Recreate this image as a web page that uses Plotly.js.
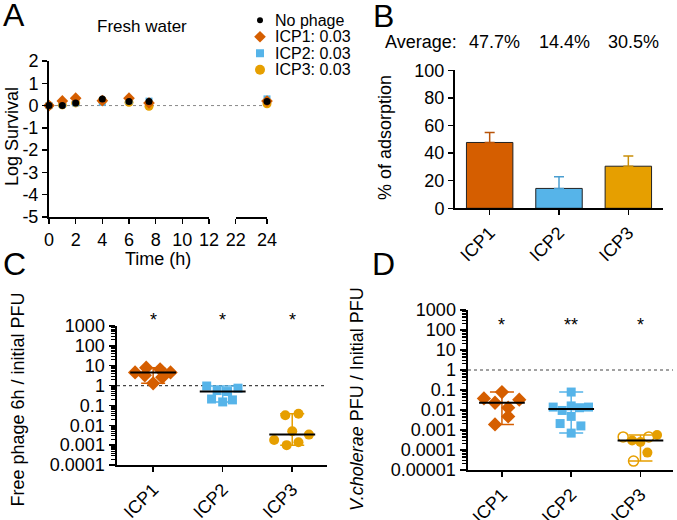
<!DOCTYPE html>
<html><head><meta charset="utf-8">
<script src="https://cdn.plot.ly/plotly-3.0.1.min.js"></script>
<style>html,body{margin:0;padding:0;background:#fff}#chart{width:677px;height:520px}</style>
</head><body><div id="chart"></div>
<script>
// ---------- Panel A: fresh water survival ----------
const timesA = [0, 1, 2, 4, 6, 7.5, 24];
const survNoPhage = [0, 0, 0.12, 0.3, 0.18, 0.18, 0.18];
const survICP1 = [0, 0.21, 0.33, 0.22, 0.33, 0.12, 0.2];
const survICP2 = [0, 0.05, 0.12, 0.15, 0.22, 0.2, 0.3];
const survICP3 = [0, 0.03, 0.12, 0.22, 0.15, -0.03, 0.08];
const legendLabelsA = ['No phage', 'ICP1: 0.03', 'ICP2: 0.03', 'ICP3: 0.03'];
const xTicksA1 = [0, 2, 4, 6, 8, 10, 12];
const xTicksA2 = [22, 24];
const yTicksA = [-5, -4, -3, -2, -1, 0, 1, 2];

// ---------- Panel B: adsorption ----------
const phages = ['ICP1', 'ICP2', 'ICP3'];
const adsorption = [47.7, 14.4, 30.5];
const adsorptionErr = [7.3, 8.5, 7.4];
const yTicksB = [0, 20, 40, 60, 80, 100];

// ---------- Panel C: free phage 6h / initial PFU ----------
const freeICP1 = [4.6, 7.9, 3.3, 1.3, 6.6, 2.6, 4.6];
const freeICP1Jit = [-0.26, -0.1, -0.12, 0, 0.1, 0.13, 0.25];
const freeICP2 = [0.95, 0.56, 0.5, 0.74, 0.21, 0.15, 0.19];
const freeICP2Jit = [-0.23, -0.08, 0.07, 0.22, -0.16, 0, 0.14];
const freeICP3 = [0.032, 0.038, 0.005, 0.0034, 0.0018, 0.001, 0.0014];
const freeICP3Jit = [-0.1, 0.09, 0, 0.24, -0.26, -0.08, 0.09];
const starsC = ['*', '*', '*'];
const yTickValsC = [1000, 100, 10, 1, 0.1, 0.01, 0.001, 0.0001];
const yTickTextC = ['1000', '100', '10', '1', '0.1', '0.01', '0.001', '0.0001'];

// ---------- Panel D: V.cholerae PFU / initial PFU ----------
const vcICP1 = [0.038, 0.023, 0.079, 0.013, 0.0048, 0.033, 0.0019];
const vcICP1Jit = [-0.26, -0.1, 0, 0.09, 0.09, 0.25, -0.1];
const vcICP2 = [0.079, 0.014, 0.0095, 0.016, 0.013, 0.014, 0.0048, 0.0021, 0.0016, 0.0007];
const vcICP2Jit = [0, -0.26, -0.13, 0, 0.12, 0.25, 0, -0.16, 0.14, 0];
const vcICP3 = [0.0003, 0.00025, 0.00056, 0.000074];
const vcICP3Jit = [-0.12, 0, 0.24, 0.1];
const vcICP3Open = [0.00045, 0.00045, 0.000028];
const vcICP3OpenJit = [-0.25, 0.12, -0.1];
const starsD = ['*', '**', '*'];
const yTickValsD = [1000, 100, 10, 1, 0.1, 0.01, 0.001, 0.0001, 0.00001];
const yTickTextD = ['1000', '100', '10', '1', '0.1', '0.01', '0.001', '0.0001', '0.00001'];

// ---------- styling ----------
const FONT = 'Liberation Sans, Arial, Helvetica, sans-serif';
const ORANGE = '#D55E00', BLUE = '#56B4E9', YELLOW = '#E69F00', BLACK = '#000000';
const W = 677, H = 520;
const px = v => v / W;
const py = v => 1 - v / H;

const traces = [];

// Panel A traces
const seriesA = [
  {vals: survICP3, color: YELLOW, symbol: 'circle', size: 9},
  {vals: survICP2, color: BLUE, symbol: 'square', size: 7},
  {vals: survICP1, color: ORANGE, symbol: 'diamond', size: 9},
  {vals: survNoPhage, color: BLACK, symbol: 'circle', size: 7}
];
seriesA.forEach(s => {
  const early = {x: [], y: []}, late = {x: [], y: []};
  timesA.forEach((t, i) => { const g = t <= 12 ? early : late; g.x.push(t); g.y.push(s.vals[i]); });
  [[early, 'x', 'y'], [late, 'x2', 'y']].forEach(([g, xa, ya]) => {
    traces.push({type: 'scatter', mode: 'markers', x: g.x, y: g.y, xaxis: xa, yaxis: ya,
      cliponaxis: false, hoverinfo: 'skip',
      marker: {color: s.color, symbol: s.symbol, size: s.size, line: {width: 0}}});
  });
});
// manual legend markers for panel A
const legendMarkers = [
  {color: BLACK, symbol: 'circle', size: 6},
  {color: ORANGE, symbol: 'diamond', size: 9},
  {color: BLUE, symbol: 'square', size: 8},
  {color: YELLOW, symbol: 'circle', size: 10}
];
legendMarkers.forEach((m, i) => {
  traces.push({type: 'scatter', mode: 'markers', x: [0.5], y: [i], xaxis: 'x6', yaxis: 'y6',
    cliponaxis: false, hoverinfo: 'skip', marker: {color: m.color, symbol: m.symbol, size: m.size}});
});

// Panel B bars
const barColors = [ORANGE, BLUE, YELLOW];
const errColors = ['#B8540A', '#4A9ED0', '#C98E08'];
phages.forEach((p, i) => {
  traces.push({type: 'bar', x: [i], y: [adsorption[i]], xaxis: 'x3', yaxis: 'y3', width: 0.67,
    hoverinfo: 'skip',
    marker: {color: barColors[i], line: {color: '#222', width: 1}},
    error_y: {type: 'data', symmetric: false, array: [adsorptionErr[i]], arrayminus: [0],
      color: errColors[i], thickness: 1.5, width: 5}});
});

// Dot plot helper for C / D
function median(arr) {
  const s = arr.slice().sort((a, b) => a - b), n = s.length;
  return n % 2 ? s[(n - 1) / 2] : (s[n / 2 - 1] + s[n / 2]) / 2;
}
function dotPanel(xa, ya, groups, xr) {
  traces.push({type: 'scatter', mode: 'lines', x: xr, y: [1, 1], xaxis: xa, yaxis: ya,
    hoverinfo: 'skip', cliponaxis: false, line: {color: '#444', width: 1.2, dash: 'dot'}});
  groups.forEach((g, i) => {
    const all = g.vals.concat(g.openVals || []);
    const med = median(all), mn = Math.min(...all), mx = Math.max(...all);
    traces.push({type: 'scatter', mode: 'markers', x: [i], y: [med], xaxis: xa, yaxis: ya,
      hoverinfo: 'skip', cliponaxis: false, marker: {size: 1, opacity: 0},
      error_y: {type: 'data', symmetric: false, array: [mx - med], arrayminus: [med - mn],
        color: g.color, thickness: 1.5, width: 12}});
    traces.push({type: 'scatter', mode: 'markers', x: g.jit.map(j => i + j), y: g.vals,
      xaxis: xa, yaxis: ya, hoverinfo: 'skip', cliponaxis: false,
      marker: {color: g.color, symbol: g.symbol, size: g.size, line: {width: 0}}});
    if (g.openVals) {
      traces.push({type: 'scatter', mode: 'markers', x: g.openJit.map(j => i + j), y: g.openVals,
        xaxis: xa, yaxis: ya, hoverinfo: 'skip', cliponaxis: false,
        marker: {color: g.color, symbol: 'circle-open', size: 10, line: {width: 1.5, color: g.color}}});
    }
    traces.push({type: 'scatter', mode: 'lines', x: [i - 0.33, i + 0.33], y: [med, med],
      xaxis: xa, yaxis: ya, hoverinfo: 'skip', cliponaxis: false, line: {color: BLACK, width: 2}});
  });
}
const xRangeC = [-0.52, 2.5];
const xRangeD = [-0.49, 2.47];
dotPanel('x4', 'y4', [
  {vals: freeICP1, jit: freeICP1Jit, color: ORANGE, symbol: 'diamond', size: 11},
  {vals: freeICP2, jit: freeICP2Jit, color: BLUE, symbol: 'square', size: 9},
  {vals: freeICP3, jit: freeICP3Jit, color: YELLOW, symbol: 'circle', size: 10}
], xRangeC);
dotPanel('x5', 'y5', [
  {vals: vcICP1, jit: vcICP1Jit, color: ORANGE, symbol: 'diamond', size: 11},
  {vals: vcICP2, jit: vcICP2Jit, color: BLUE, symbol: 'square', size: 9},
  {vals: vcICP3, jit: vcICP3Jit, color: YELLOW, symbol: 'circle', size: 10,
   openVals: vcICP3Open, openJit: vcICP3OpenJit}
], xRangeD);

// ---------- axes ----------
const axBase = {showline: true, linecolor: BLACK, linewidth: 2, ticks: 'outside', ticklen: 5,
  tickwidth: 1.5, tickcolor: BLACK, showgrid: false, zeroline: false, fixedrange: true,
  tickfont: {size: 18, color: BLACK, family: FONT}};
function minorLog(lo, hi) {
  const v = [];
  for (let e = lo; e < hi; e++) for (let k = 2; k <= 9; k++) v.push(k * Math.pow(10, e));
  return v;
}

const layout = {
  width: W, height: H, margin: {l: 0, r: 0, t: 0, b: 0}, showlegend: false,
  paper_bgcolor: '#fff', plot_bgcolor: 'rgba(0,0,0,0)', barmode: 'overlay',
  font: {family: FONT, size: 18, color: BLACK},
  xaxis: Object.assign({}, axBase, {domain: [px(49), px(209)], range: [0, 12], anchor: 'y',
    tickmode: 'array', tickvals: xTicksA1, ticktext: xTicksA1.map(String)}),
  xaxis2: Object.assign({}, axBase, {domain: [px(235.7), px(267)], range: [22, 24], anchor: 'y',
    tickmode: 'array', tickvals: xTicksA2, ticktext: xTicksA2.map(String)}),
  yaxis: Object.assign({}, axBase, {domain: [py(217), py(61)], range: [-5, 2], anchor: 'x',
    tickmode: 'array', tickvals: yTicksA, ticktext: yTicksA.map(String)}),
  xaxis3: Object.assign({}, axBase, {domain: [px(455), px(663)], range: [-0.5, 2.5], anchor: 'y3',
    tickmode: 'array', tickvals: [0, 1, 2], ticktext: phages, tickangle: -45}),
  yaxis3: Object.assign({}, axBase, {domain: [py(208.3), py(70.3)], range: [0, 100], anchor: 'x3',
    tickmode: 'array', tickvals: yTicksB, ticktext: yTicksB.map(String)}),
  xaxis4: Object.assign({}, axBase, {domain: [px(117), px(327)], range: xRangeC, anchor: 'y4',
    tickmode: 'array', tickvals: [0, 1, 2], ticktext: phages, tickangle: -45}),
  yaxis4: Object.assign({}, axBase, {type: 'log', domain: [py(465), py(326)], range: [-4, 3], anchor: 'x4',
    tickmode: 'array', tickvals: yTickValsC, ticktext: yTickTextC, ticklen: 6, linewidth: 2.5,
    minor: {tickmode: 'array', tickvals: minorLog(-4, 3), ticks: 'outside', ticklen: 3.5, tickwidth: 1, tickcolor: BLACK}}),
  xaxis5: Object.assign({}, axBase, {domain: [px(468), px(673)], range: xRangeD, anchor: 'y5',
    tickmode: 'array', tickvals: [0, 1, 2], ticktext: phages, tickangle: -45}),
  yaxis5: Object.assign({}, axBase, {type: 'log', domain: [py(470), py(310)], range: [-5, 3], anchor: 'x5',
    tickmode: 'array', tickvals: yTickValsD, ticktext: yTickTextD, ticklen: 6, linewidth: 2.5,
    minor: {tickmode: 'array', tickvals: minorLog(-5, 3), ticks: 'outside', ticklen: 3.5, tickwidth: 1, tickcolor: BLACK}}),
  xaxis6: {domain: [px(250), px(270)], range: [0, 1], visible: false, anchor: 'y6', fixedrange: true},
  yaxis6: {domain: [py(78), py(12)], range: [3.5, -0.5], visible: false, anchor: 'x6', fixedrange: true},
  shapes: [
    {type: 'line', xref: 'paper', yref: 'y', x0: px(49), x1: px(267), y0: 0, y1: 0,
     line: {color: '#888', width: 1, dash: 'dot'}, layer: 'below'}
  ],
  annotations: []
};

const ann = layout.annotations;
function txt(text, x, y, opts) {
  ann.push(Object.assign({text: text, x: x, y: y, xref: 'paper', yref: 'paper', showarrow: false,
    xanchor: 'center', yanchor: 'middle', font: {family: FONT, size: 18, color: BLACK}}, opts || {}));
}
// panel letters
const LETTER = {family: FONT, size: 32, color: BLACK};
txt('A', px(14), py(15), {font: LETTER});
txt('B', px(383), py(16), {font: LETTER});
txt('C', px(14), py(264), {font: LETTER});
txt('D', px(383), py(264), {font: LETTER});
// panel A texts
txt('Fresh water', px(142), py(26), {font: {family: FONT, size: 17, color: BLACK}});
txt('Log Survival', px(12), py(137), {textangle: -90});
txt('Time (h)', px(158), py(259));
legendLabelsA.forEach((l, i) => {
  ann.push({text: l, x: px(273), y: i, xref: 'paper', yref: 'y6', showarrow: false,
    xanchor: 'left', yanchor: 'middle', font: {family: FONT, size: 16, color: BLACK}});
});
// panel B texts
txt('% of adsorption', px(385), py(138), {textangle: -90});
txt('Average:', px(459), py(42), {xanchor: 'right'});
adsorption.forEach((v, i) => {
  ann.push({text: v.toFixed(1) + '%', x: i, xref: 'x3', y: py(42), yref: 'paper', xshift: 5,
    showarrow: false, xanchor: 'center', yanchor: 'middle', font: {family: FONT, size: 18, color: BLACK}});
});
// panel C texts
txt('Free phage 6h / initial PFU', px(17.5), py(400), {textangle: -90});
starsC.forEach((s, i) => {
  ann.push({text: s, x: i, xref: 'x4', y: py(320), yref: 'paper', showarrow: false,
    xanchor: 'center', yanchor: 'middle', font: {family: FONT, size: 18, color: BLACK}});
});
// panel D texts
txt('<i>V.cholerae</i> PFU / Initial PFU', px(357), py(399), {textangle: -90});
starsD.forEach((s, i) => {
  ann.push({text: s, x: i, xref: 'x5', y: py(325), yref: 'paper', showarrow: false,
    xanchor: 'center', yanchor: 'middle', font: {family: FONT, size: 18, color: BLACK}});
});

Plotly.newPlot('chart', traces, layout, {staticPlot: true, displayModeBar: false});
</script>
</body></html>
